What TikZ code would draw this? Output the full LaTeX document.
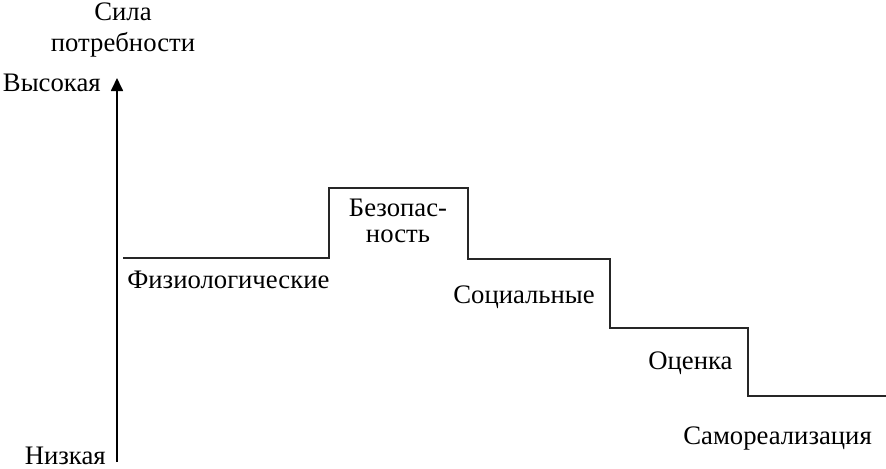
\documentclass[tikz,border=0pt]{standalone}
\usepackage{fontspec}
\setmainfont{Liberation Serif}
\usepackage{tikz}
\usetikzlibrary{arrows.meta,positioning}
\tikzset{
  lbl/.style={font=\fontsize{15.2}{17}\selectfont,inner sep=0pt,align=center},
  stepline/.style={line width=1pt,color=black!85},
  ax/.style={-{Triangle[length=2.6mm,width=2.4mm]},line width=1pt}
}

\begin{document}
\begin{tikzpicture}[x=0.02cm,y=-0.02cm]
  \useasboundingbox (0,0) rectangle (886,468);
  % ось
  \coordinate (o) at (117,462);
  \coordinate (top) at (117,78);
  \draw[ax] (o) -- (top);
  \node[lbl] (ttl) at (123,30) {Сила\\[1pt]потребности};
  \node[lbl,anchor=east] (hi) at (101,83) {Высокая};
  \node[lbl,anchor=east] (lo) at (106,456) {Низкая};
  % ступени
  \coordinate (s0) at (123,258);
  \coordinate (s1) at (329,258);
  \coordinate (s2) at (329,188);
  \coordinate (s3) at (468,188);
  \coordinate (s4) at (468,259);
  \coordinate (s5) at (610,259);
  \coordinate (s6) at (610,328);
  \coordinate (s7) at (748,328);
  \coordinate (s8) at (748,396);
  \coordinate (s9) at (886,396);
  \draw[stepline] (s0) -- (s1) -- (s2) -- (s3) -- (s4) -- (s5) -- (s6) -- (s7) -- (s8) -- (s9);
  \node[lbl,anchor=west] (fiz) at (127,280) {Физиологические};
  \node[lbl] (bez) at (398,221) {Безопас-\\[-2pt]ность};
  \node[lbl,anchor=west] (soc) at (453,297) {Социальные};
  \node[lbl,anchor=west] (ots) at (648,363) {Оценка};
  \node[lbl,anchor=west] (sam) at (683,438) {Самореализация};
\end{tikzpicture}
\end{document}
